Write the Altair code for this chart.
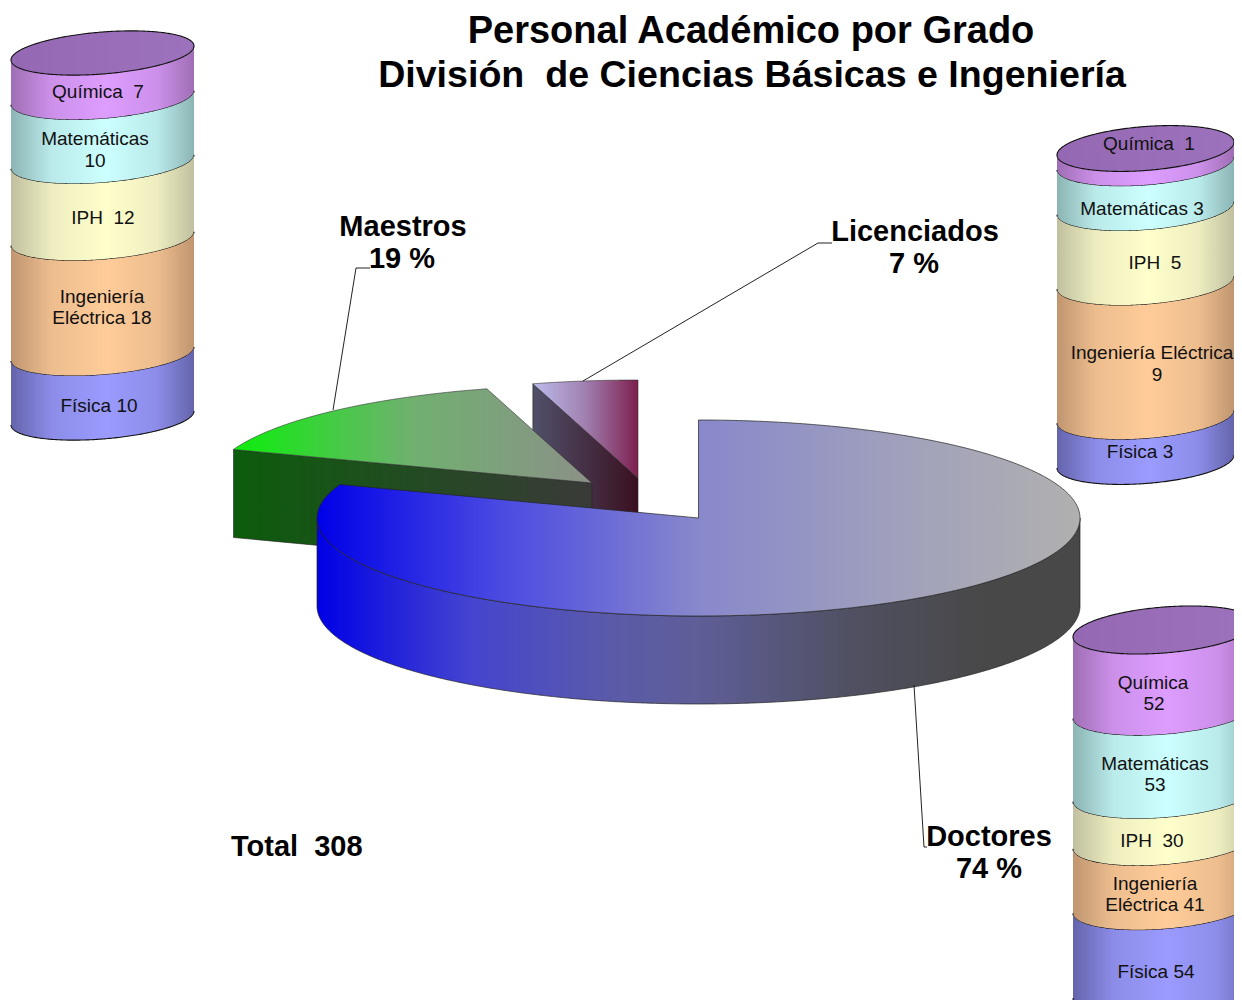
import numpy as np
import pandas as pd
import altair as alt

# ---------- values ----------
title_lines = ["Personal Académico por Grado", "División\u00a0\u00a0de Ciencias Básicas e Ingeniería"]
degree_names = ["Doctores", "Maestros", "Licenciados"]
degree_share = [74, 19, 7]
total_staff = 308
departments = ["Química", "Matemáticas", "IPH", "Ingeniería Eléctrica", "Física"]
maestros_values = [7, 10, 12, 18, 10]
licenciados_values = [1, 3, 5, 9, 3]
doctores_values = [52, 53, 30, 41, 54]

# ---------- layout & style ----------
FONT = "Liberation Sans"
SP2 = "\u00a0\u00a0"
BAND_STOPS = [
    ("#9f6eb4", "#dd9dff"),
    ("#8cb4b4", "#ccffff"),
    ("#c0c0a0", "#ffffcc"),
    ("#c09670", "#ffcc99"),
    ("#6464ac", "#9b9bff"),
]
CAP_COLOR = ("#9568b4", "#9d72bc")
# (cx, half width, ellipse b, tilt, top centre y, body height)
CYL_LEFT = (102.5, 91.5, 21, 7, 53, 365)
CYL_RIGHT = (1145.5, 88.5, 22, 6.5, 148.5, 313)
CYL_BOTTOM = (1164, 91, 23, 7, 630, 361)
PIE_A, PIE_B, PIE_DEPTH = 381.5, 98, 88
PIE_CENTER = (698.5, 518)
MAESTROS_APEX = (592, 483)
LIC_APEX = (638, 478)
# drawn angles of the slice boundaries on the tilted pie
ANG_MAIN_END, ANG_MAE_END, ANG_FULL = 290, 344, 360

X = alt.X("x:Q", axis=None, scale=alt.Scale(domain=[8, 1234], nice=False, zero=False))
Y = alt.Y("y:Q", axis=None, scale=alt.Scale(domain=[1000, 8], nice=False, zero=False))
Y2 = alt.Y2("y2:Q")


def mix(c1, c2, f):
    a = [int(c1[i:i + 2], 16) for i in (1, 3, 5)]
    b = [int(c2[i:i + 2], 16) for i in (1, 3, 5)]
    return "#" + "".join(f"{round(p + (q - p) * f):02x}" for p, q in zip(a, b))


def grad(stops):
    n = len(stops)
    gs = []
    for i, s in enumerate(stops):
        if isinstance(s, tuple):
            gs.append(alt.GradientStop(color=s[1], offset=s[0]))
        else:
            gs.append(alt.GradientStop(color=s, offset=i / (n - 1)))
    return alt.Gradient(gradient="linear", stops=gs, x1=0, x2=1, y1=0, y2=0)


def area(x, y, y2, fill, stroke=None, sw=0.8):
    df = pd.DataFrame({"x": x, "y": y, "y2": y2})
    kw = dict(color=grad(fill), clip=True, interpolate="linear")
    if stroke:
        kw.update(stroke=stroke, strokeWidth=sw)
    return alt.Chart(df).mark_area(**kw).encode(x=X, y=Y, y2=Y2)


def line(x, y, color="#111", sw=1.1):
    df = pd.DataFrame({"x": x, "y": y, "i": np.arange(len(x))})
    return alt.Chart(df).mark_line(color=color, strokeWidth=sw, clip=True).encode(x=X, y=Y, order="i:Q")


def text_layer(rows, size, bold=False, align="center", color="#000"):
    df = pd.DataFrame(rows, columns=["t", "x", "y"])
    return alt.Chart(df).mark_text(
        font=FONT, fontSize=size, fontWeight="bold" if bold else "normal",
        align=align, baseline="middle", color=color,
    ).encode(x=X, y=Y, text="t:N")


def cylinder(cfg, values):
    cx, a, b, tilt, y0, body = cfg
    k = body / sum(values)
    u = np.sin(np.linspace(-np.pi / 2, np.pi / 2, 161))
    xs = cx + a * u
    front = b * np.sqrt(1 - u ** 2) - tilt * u
    back = -b * np.sqrt(1 - u ** 2) - tilt * u
    layers = []
    y = y0
    for v, (dark, light) in zip(values, BAND_STOPS):
        h = v * k
        layers.append(area(xs, y + front, y + h + front,
                           [(0, dark), (0.22, mix(dark, light, 0.72)), (0.52, light),
                            (0.8, mix(dark, light, 0.72)), (1, dark)]))
        layers.append(line(xs, y + h + front))
        y += h
    layers.append(area(xs, y0 + back, y0 + front, list(CAP_COLOR)))
    layers.append(line(np.r_[xs, xs[::-1]], np.r_[y0 + front, y0 + back[::-1]]))
    return layers


def ell(center, deg):
    t = np.radians(deg)
    return center[0] + PIE_A * np.sin(t), center[1] - PIE_B * np.cos(t)


def wedge(apex, a0, a1, fill_top, fill_side, depth=PIE_DEPTH):
    """Exploded slice: top face and the cut face that looks to the viewer."""
    th = np.linspace(a0, a1, 60)
    ax, ay = ell(apex, th)
    ux = np.r_[ax, apex[0]]
    uy = np.r_[ay, apex[1]]
    lx = np.array([ax[0], apex[0]])
    ly = np.array([ay[0], apex[1]])
    y_low = np.interp(ux, lx, ly)
    side = area(lx, ly, ly + depth, fill_side, "#222", 0.6)
    top = area(ux, uy, y_low, fill_top, "#333", 0.6)
    return [side, top]


# ---------- pie ----------
cx, cy = PIE_CENTER
u_all = np.sin(np.linspace(-np.pi / 2, np.pi / 2, 361))
x_all = cx + PIE_A * u_all
low_all = cy + PIE_B * np.sqrt(1 - u_all ** 2)


def low_at(x):
    return cy + PIE_B * np.sqrt(np.clip(1 - ((x - cx) / PIE_A) ** 2, 0, 1))


th_left = np.linspace(270, ANG_MAIN_END, 30)
xl, yl = ell(PIE_CENTER, th_left)
x_cut = np.linspace(xl[-1], cx, 40)[1:]
y_cut = np.interp(x_cut, [xl[-1], cx], [yl[-1], cy])
th_right = np.linspace(0, 90, 120)
xr, yr = ell(PIE_CENTER, th_right)
main_x = np.r_[xl, x_cut, xr]
main_y = np.r_[yl, y_cut, yr]

main_side = area(
    x_all, low_all, low_all + PIE_DEPTH,
    [(0, "#0000e6"), (0.2, "#4444d0"), (0.38, "#5a5aaa"), (0.5, "#5e5e98"),
     (0.7, "#505062"), (0.88, "#484848"), (1, "#484848")],
    "#222", 0.7,
)
main_top = area(
    main_x, main_y, low_at(main_x),
    [(0, "#0000e8"), (0.24, "#4a4ae2"), (0.5, "#8888cc"), (0.76, "#a0a0bc"), (1, "#b0b0b0")],
    "#222", 0.7,
)

lic = wedge(LIC_APEX, ANG_MAE_END, ANG_FULL, ["#bcbcec", "#a080b0", "#7e1f4e"], ["#50506a", "#3a1020"])
mae = wedge(MAESTROS_APEX, ANG_MAIN_END, ANG_MAE_END,
            [(0, "#0cee0c"), (0.5, "#70b070"), (1, "#8c9088")],
            ["#0c5c0c", "#3a3a38"])

# ---------- leaders ----------
leaders = [
    line([333, 356, 370], [410, 268, 268], "#222", 1),
    line([583, 818, 832], [381, 243, 243], "#222", 1),
    line([914, 924, 927], [685, 847, 847], "#222", 1),
]

# ---------- text ----------
title_rows_a = [(title_lines[0], 751, 32)]
title_rows_b = [(title_lines[1], 752, 76)]
big_rows = [
    (degree_names[1], 403, 227), (f"{degree_share[1]} %", 402, 259),
    (degree_names[2], 915, 232), (f"{degree_share[2]} %", 914, 264),
    (degree_names[0], 989, 837), (f"{degree_share[0]} %", 989, 869),
]
total_rows = [(f"Total{SP2}{total_staff}", 231, 847)]
small_rows = [
    (f"{departments[0]}{SP2}{maestros_values[0]}", 98, 92),
    (departments[1], 95, 139), (str(maestros_values[1]), 95, 161),
    (f"{departments[2]}{SP2}{maestros_values[2]}", 103, 218),
    ("Ingeniería", 102, 297), (f"Eléctrica {maestros_values[3]}", 102, 318),
    (f"{departments[4]} {maestros_values[4]}", 99, 406),
    (f"{departments[0]}{SP2}{licenciados_values[0]}", 1149, 144),
    (f"{departments[1]} {licenciados_values[1]}", 1142, 209),
    (f"{departments[2]}{SP2}{licenciados_values[2]}", 1155, 263),
    (departments[3], 1152, 353), (str(licenciados_values[3]), 1157, 375),
    (f"{departments[4]} {licenciados_values[4]}", 1140, 452),
    (departments[0], 1153, 683), (str(doctores_values[0]), 1154, 704),
    (departments[1], 1155, 764), (str(doctores_values[1]), 1155, 785),
    (f"{departments[2]}{SP2}{doctores_values[2]}", 1152, 841),
    ("Ingeniería", 1155, 884), (f"Eléctrica {doctores_values[3]}", 1155, 905),
    (f"{departments[4]} {doctores_values[4]}", 1156, 972),
]

layers = []
layers += lic + mae + [main_side, main_top] + leaders
layers += cylinder(CYL_LEFT, maestros_values)
layers += cylinder(CYL_RIGHT, licenciados_values)
layers += cylinder(CYL_BOTTOM, doctores_values)
layers += [
    text_layer(title_rows_a, 38, bold=True),
    text_layer(title_rows_b, 37.6, bold=True),
    text_layer(big_rows, 29, bold=True),
    text_layer(total_rows, 29, bold=True, align="left"),
    text_layer(small_rows, 19, color="#111"),
]

chart = (
    alt.layer(*layers)
    .properties(width=1226, height=992, padding=0, autosize=alt.AutoSizeParams(type="none"), background="white")
    .configure_view(stroke=None)
)
chart.save("out.html", embed_options={"renderer": "svg", "actions": False})
